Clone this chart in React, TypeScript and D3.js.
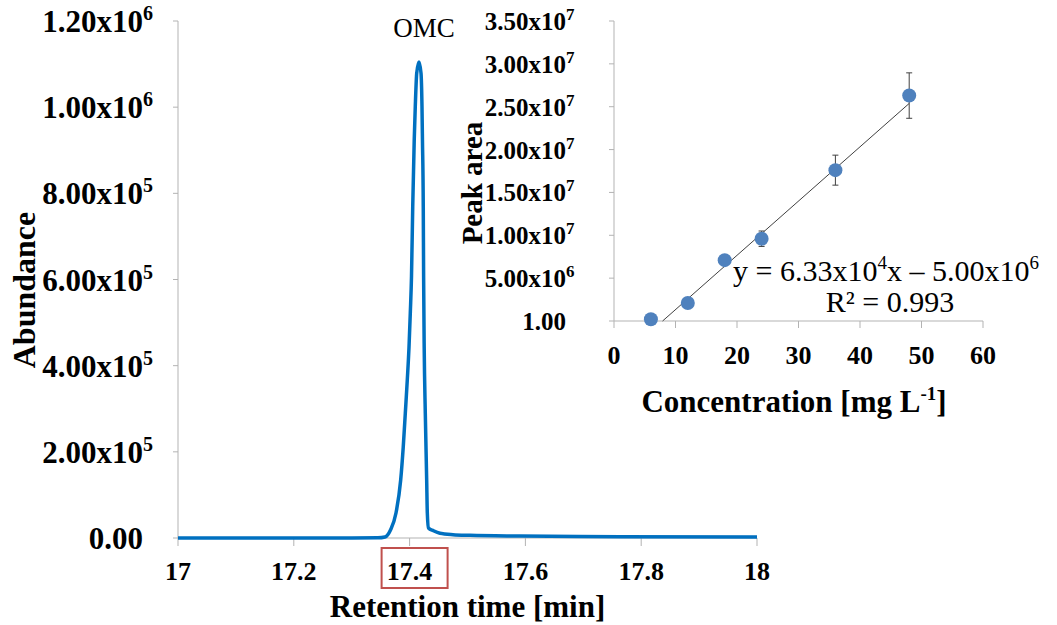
import { useEffect, useRef } from "react";
import * as d3 from "d3";

// chromatogram trace (retention time [min], abundance)
const traceTime = [
  17.0, 17.2, 17.3, 17.345, 17.3575, 17.367, 17.3765, 17.3846, 17.389, 17.3926, 17.396, 17.399,
  17.4012, 17.4033, 17.4054, 17.408, 17.4098, 17.4123, 17.4162, 17.4197, 17.4214, 17.4222,
  17.4236, 17.4242, 17.4252, 17.4271, 17.4295, 17.4306, 17.4326, 17.441, 17.4525, 17.475,
  17.5043, 17.5907, 17.7634, 18.0,
];
const traceAbundance = [
  0, 0, 0, 300, 2300, 18600, 58000, 134600, 211000, 290000, 366700, 443300, 522000, 608000,
  769000, 924000, 1001000, 1079000, 1105000, 1079000, 1001000, 924000, 769000, 608000, 443300,
  290000, 134600, 58000, 23200, 17000, 10900, 7700, 6300, 4600, 3000, 2300,
];

const mainXTicks = [17, 17.2, 17.4, 17.6, 17.8, 18];
const mainYTicks = [0, 2e5, 4e5, 6e5, 8e5, 1e6, 1.2e6];
const mainYBase = ["0.00", "2.00x10", "4.00x10", "6.00x10", "8.00x10", "1.00x10", "1.20x10"];
const mainYExp = ["", "5", "5", "5", "5", "6", "6"];

// calibration inset
const concentration = [6, 12, 18, 24, 36, 48];
const peakArea = [0.2e6, 2.1e6, 7.1e6, 9.6e6, 17.6e6, 26.3e6];
const peakAreaErr = [0.2e6, 0.3e6, 0.4e6, 0.9e6, 1.75e6, 2.65e6];
const trendSlope = 6.33e5;
const trendIntercept = -5.0e6;
const insetXTicks = [0, 10, 20, 30, 40, 50, 60];
const insetYTicks = [0, 5e6, 1e7, 1.5e7, 2e7, 2.5e7, 3e7, 3.5e7];
const insetYBase = ["1.00", "5.00x10", "1.00x10", "1.50x10", "2.00x10", "2.50x10", "3.00x10", "3.50x10"];
const insetYExp = ["", "6", "7", "7", "7", "7", "7", "7"];

export default function App() {
  const ref = useRef<SVGSVGElement>(null);

  useEffect(() => {
    const width = 1057;
    const height = 625;
    const font = "'Liberation Serif', 'Times New Roman', serif";
    const axisColor = "#b3b3b3";

    const svg = d3.select(ref.current);
    svg.selectAll("*").remove();
    svg.attr("viewBox", `0 0 ${width} ${height}`);

    // ---------- main chromatogram ----------
    const x = d3.scaleLinear().domain([17, 18]).range([178, 757]);
    const y = d3.scaleLinear().domain([0, 1.2e6]).range([538, 21]);

    const g = svg.append("g");

    g.append("line")
      .attr("x1", x(17)).attr("x2", x(17))
      .attr("y1", y(1.2e6)).attr("y2", y(0))
      .attr("stroke", axisColor);
    g.append("line")
      .attr("x1", x(17)).attr("x2", x(18))
      .attr("y1", y(0)).attr("y2", y(0))
      .attr("stroke", axisColor);

    g.selectAll(".ytick")
      .data(mainYTicks)
      .join("line")
      .attr("x1", x(17) - 5).attr("x2", x(17))
      .attr("y1", (d) => y(d)).attr("y2", (d) => y(d))
      .attr("stroke", axisColor);

    g.selectAll(".xtick")
      .data(mainXTicks)
      .join("line")
      .attr("x1", (d) => x(d)).attr("x2", (d) => x(d))
      .attr("y1", y(0)).attr("y2", y(0) + 8)
      .attr("stroke", axisColor);

    mainYTicks.forEach((v, i) => {
      g.append("text")
        .attr("x", 143)
        .attr("y", y(v) + 11)
        .attr("text-anchor", "end")
        .attr("font-family", font)
        .attr("font-weight", "bold")
        .attr("font-size", 31)
        .text(mainYBase[i]);
      if (mainYExp[i])
        g.append("text")
          .attr("x", 143)
          .attr("y", y(v) - 1)
          .attr("font-family", font)
          .attr("font-weight", "bold")
          .attr("font-size", 20)
          .text(mainYExp[i]);
    });

    g.selectAll(".xlabel")
      .data(mainXTicks)
      .join("text")
      .attr("x", (d) => x(d))
      .attr("y", 580)
      .attr("text-anchor", "middle")
      .attr("font-family", font)
      .attr("font-weight", "bold")
      .attr("font-size", 26)
      .text((d) => d3.format("~g")(d));

    // red box around 17.4
    g.append("rect")
      .attr("x", x(17.4) - 28)
      .attr("y", 548)
      .attr("width", 66)
      .attr("height", 40)
      .attr("fill", "none")
      .attr("stroke", "#c0504d")
      .attr("stroke-width", 2);

    g.append("text")
      .attr("x", (x(17) + x(18)) / 2)
      .attr("y", 617)
      .attr("text-anchor", "middle")
      .attr("font-family", font)
      .attr("font-weight", "bold")
      .attr("font-size", 31)
      .text("Retention time [min]");

    g.append("text")
      .attr("transform", `translate(35,290) rotate(-90)`)
      .attr("text-anchor", "middle")
      .attr("font-family", font)
      .attr("font-weight", "bold")
      .attr("font-size", 32)
      .text("Abundance");

    const trace = traceTime.map((t, i) => [t, traceAbundance[i]] as [number, number]);
    const line = d3
      .line<[number, number]>()
      .x((d) => x(d[0]))
      .y((d) => y(d[1]))
      .curve(d3.curveMonotoneX);

    g.append("path")
      .attr("d", line(trace))
      .attr("fill", "none")
      .attr("stroke", "#0070c0")
      .attr("stroke-width", 3.5)
      .attr("stroke-linejoin", "round");

    g.append("text")
      .attr("x", 424)
      .attr("y", 37)
      .attr("text-anchor", "middle")
      .attr("font-family", font)
      .attr("font-size", 27)
      .text("OMC");

    // ---------- calibration inset ----------
    const ix = d3.scaleLinear().domain([0, 60]).range([614, 983]);
    const iy = d3.scaleLinear().domain([0, 3.5e7]).range([321, 21]);
    const inset = svg.append("g");

    inset.append("line")
      .attr("x1", ix(0)).attr("x2", ix(0))
      .attr("y1", iy(3.5e7)).attr("y2", iy(0))
      .attr("stroke", axisColor);
    inset.append("line")
      .attr("x1", ix(0)).attr("x2", ix(60))
      .attr("y1", iy(0)).attr("y2", iy(0))
      .attr("stroke", axisColor);

    inset.selectAll(".iytick")
      .data(insetYTicks)
      .join("line")
      .attr("x1", ix(0) - 5).attr("x2", ix(0))
      .attr("y1", (d) => iy(d)).attr("y2", (d) => iy(d))
      .attr("stroke", axisColor);

    inset.selectAll(".ixtick")
      .data(insetXTicks)
      .join("line")
      .attr("x1", (d) => ix(d)).attr("x2", (d) => ix(d))
      .attr("y1", iy(0)).attr("y2", iy(0) + 7)
      .attr("stroke", axisColor);

    insetYTicks.forEach((v, i) => {
      inset.append("text")
        .attr("x", 566)
        .attr("y", iy(v) + 9)
        .attr("text-anchor", "end")
        .attr("font-family", font)
        .attr("font-weight", "bold")
        .attr("font-size", 25)
        .text(insetYBase[i]);
      if (insetYExp[i])
        inset.append("text")
          .attr("x", 566)
          .attr("y", iy(v) - 1)
          .attr("font-family", font)
          .attr("font-weight", "bold")
          .attr("font-size", 17)
          .text(insetYExp[i]);
    });

    inset.selectAll(".ixlabel")
      .data(insetXTicks)
      .join("text")
      .attr("x", (d) => ix(d))
      .attr("y", 364)
      .attr("text-anchor", "middle")
      .attr("font-family", font)
      .attr("font-weight", "bold")
      .attr("font-size", 26)
      .text((d) => d);

    const conc = inset.append("text")
      .attr("x", 794)
      .attr("y", 412)
      .attr("text-anchor", "middle")
      .attr("font-family", font)
      .attr("font-weight", "bold")
      .attr("font-size", 31);
    conc.append("tspan").text("Concentration [mg L");
    conc.append("tspan").attr("dy", -12).attr("font-size", 19).text("-1");
    conc.append("tspan").attr("dy", 12).text("]");

    inset.append("text")
      .attr("transform", `translate(482,183) rotate(-90)`)
      .attr("text-anchor", "middle")
      .attr("font-family", font)
      .attr("font-weight", "bold")
      .attr("font-size", 29)
      .text("Peak area");

    // trend line
    const xStart = -trendIntercept / trendSlope;
    const xEnd = d3.max(concentration) as number;
    inset.append("line")
      .attr("x1", ix(xStart)).attr("y1", iy(0))
      .attr("x2", ix(xEnd)).attr("y2", iy(trendSlope * xEnd + trendIntercept))
      .attr("stroke", "#404040")
      .attr("stroke-width", 1);

    // error bars
    const eb = inset.append("g").attr("stroke", "#404040").attr("stroke-width", 1);
    concentration.forEach((c, i) => {
      const top = iy(peakArea[i] + peakAreaErr[i]);
      const bot = iy(peakArea[i] - peakAreaErr[i]);
      eb.append("line").attr("x1", ix(c)).attr("x2", ix(c)).attr("y1", top).attr("y2", bot);
      eb.append("line").attr("x1", ix(c) - 3).attr("x2", ix(c) + 3).attr("y1", top).attr("y2", top);
      eb.append("line").attr("x1", ix(c) - 3).attr("x2", ix(c) + 3).attr("y1", bot).attr("y2", bot);
    });

    inset.selectAll(".pt")
      .data(concentration)
      .join("circle")
      .attr("cx", (d) => ix(d))
      .attr("cy", (_d, i) => iy(peakArea[i]))
      .attr("r", 7)
      .attr("fill", "#4f81bd");

    const eq = inset.append("text")
      .attr("x", 886)
      .attr("y", 281)
      .attr("text-anchor", "middle")
      .attr("font-family", font)
      .attr("font-size", 30);
    eq.append("tspan").text("y = 6.33x10");
    eq.append("tspan").attr("dy", -12).attr("font-size", 19).text("4");
    eq.append("tspan").attr("dy", 12).text("x \u2013 5.00x10");
    eq.append("tspan").attr("dy", -12).attr("font-size", 19).text("6");

    inset.append("text")
      .attr("x", 890)
      .attr("y", 312)
      .attr("text-anchor", "middle")
      .attr("font-family", font)
      .attr("font-size", 30)
      .text("R\u00b2 = 0.993");
  }, []);

  return (
    <svg
      ref={ref}
      width={1057}
      height={625}
      style={{ position: "absolute", left: 0, top: 0, background: "#fff" }}
    />
  );
}
